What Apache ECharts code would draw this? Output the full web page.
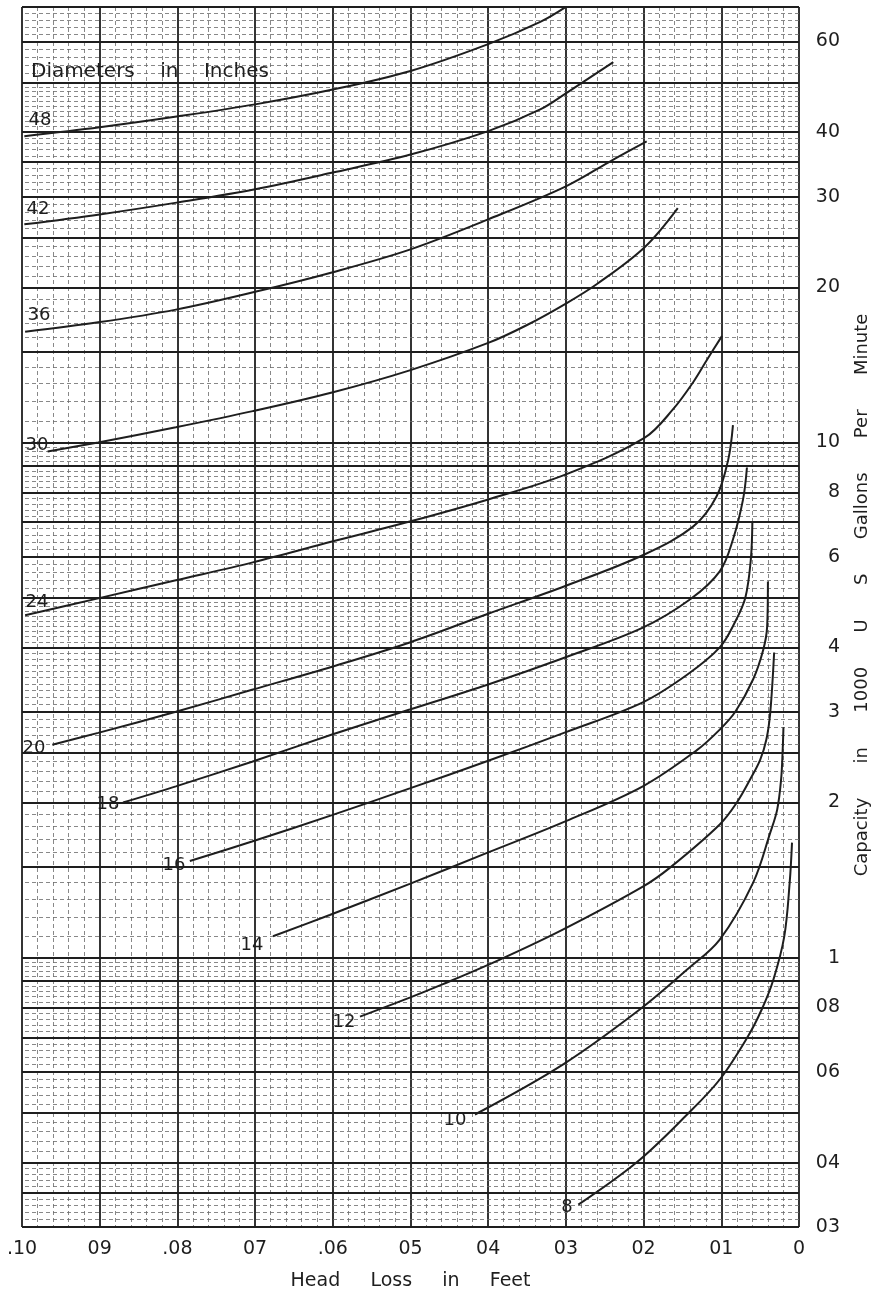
<!DOCTYPE html>
<html>
<head>
<meta charset="utf-8">
<script src="https://cdn.jsdelivr.net/npm/echarts@6/dist/echarts.min.js"></script>
<style>html,body{margin:0;padding:0;background:#ffffff}#c{width:881px;height:1298px}</style>
</head>
<body>
<div id="c"></div>
<script>
// ---- data (x = head loss in feet, y = capacity in 1000 US gpm) ----
const diameters = ['48', '42', '36', '30', '24', '20', '18', '16', '14', '12', '10', '8'];

const loss48 = [0.0997, 0.0900, 0.0801, 0.0700, 0.0600, 0.0500, 0.0400, 0.0333, 0.0301];
const cap48  = [39.3, 40.9, 42.9, 45.3, 48.4, 52.6, 59.3, 65.5, 69.9];

const loss42 = [0.0997, 0.0900, 0.0801, 0.0700, 0.0600, 0.0500, 0.0400, 0.0333, 0.0300, 0.0239];
const cap42  = [26.5, 27.7, 29.2, 31.0, 33.4, 36.2, 40.2, 44.3, 47.6, 54.7];

const loss36 = [0.0996, 0.0902, 0.0802, 0.0700, 0.0600, 0.0500, 0.0400, 0.0300, 0.0239, 0.0196];
const cap36  = [16.4, 17.1, 18.1, 19.6, 21.4, 23.7, 27.1, 31.4, 35.4, 38.4];

const loss30 = [0.0967, 0.0902, 0.0802, 0.0703, 0.0601, 0.0501, 0.0400, 0.0350, 0.0300, 0.0260, 0.0199, 0.0156];
const cap30  = [9.60, 10.0, 10.7, 11.5, 12.5, 13.8, 15.6, 16.9, 18.6, 20.3, 23.9, 28.5];

const loss24 = [0.0996, 0.0902, 0.0802, 0.0703, 0.0601, 0.0501, 0.0400, 0.0300, 0.0199, 0.0162, 0.0136, 0.0118, 0.0099];
const cap24  = [4.62, 4.98, 5.40, 5.85, 6.42, 7.02, 7.75, 8.67, 10.2, 11.6, 13.1, 14.5, 16.1];

const loss20 = [0.0961, 0.0902, 0.0802, 0.0704, 0.0601, 0.0501, 0.0400, 0.0300, 0.0199, 0.0136, 0.0106, 0.0091, 0.0085];
const cap20  = [2.59, 2.73, 3.00, 3.31, 3.67, 4.09, 4.65, 5.27, 6.06, 6.87, 7.86, 9.27, 10.8];

const loss18 = [0.0870, 0.0802, 0.0704, 0.0601, 0.0501, 0.0400, 0.0302, 0.0201, 0.0140, 0.0102, 0.0085, 0.0072, 0.0067];
const cap18  = [2.00, 2.15, 2.40, 2.71, 3.03, 3.39, 3.82, 4.37, 4.96, 5.62, 6.48, 7.75, 8.94];

const loss16 = [0.0784, 0.0704, 0.0601, 0.0501, 0.0400, 0.0300, 0.0201, 0.0144, 0.0102, 0.0082, 0.0069, 0.0062, 0.0060];
const cap16  = [1.54, 1.68, 1.89, 2.13, 2.41, 2.74, 3.13, 3.54, 4.00, 4.49, 5.00, 5.93, 7.02];

const loss14 = [0.0677, 0.0604, 0.0501, 0.0400, 0.0300, 0.0201, 0.0131, 0.0102, 0.0082, 0.0059, 0.0046, 0.0041, 0.0040];
const cap14  = [1.10, 1.21, 1.39, 1.60, 1.84, 2.15, 2.53, 2.77, 3.00, 3.47, 3.96, 4.39, 5.37];

const loss12 = [0.0565, 0.0501, 0.0459, 0.0385, 0.0304, 0.0201, 0.0166, 0.0102, 0.0080, 0.0063, 0.0050, 0.0042, 0.0037, 0.0032];
const cap12  = [0.768, 0.836, 0.887, 0.991, 1.133, 1.373, 1.495, 1.813, 2.00, 2.216, 2.42, 2.65, 2.99, 3.91];

const loss10 = [0.0417, 0.0304, 0.0205, 0.0144, 0.0102, 0.0059, 0.0037, 0.0028, 0.0023, 0.0021, 0.0020];
const cap10  = [0.496, 0.620, 0.793, 0.948, 1.084, 1.398, 1.748, 1.94, 2.22, 2.53, 2.80];

const loss8 = [0.0284, 0.0208, 0.0144, 0.0102, 0.0066, 0.0048, 0.0033, 0.0019, 0.0012, 0.0009];
const cap8  = [0.3315, 0.4016, 0.496, 0.580, 0.702, 0.793, 0.906, 1.098, 1.398, 1.672];

// tick labels as printed on the chart
const lossTickLabels = ['0', '01', '02', '03', '04', '05', '.06', '07', '.08', '09', '.10'];
const capTickValues = [0.3, 0.4, 0.6, 0.8, 1, 2, 3, 4, 6, 8, 10, 20, 30, 40, 60];
const capTickLabels = ['03', '04', '06', '08', '1', '2', '3', '4', '6', '8', '10', '20', '30', '40', '60'];

// ruled graph-paper lines (capacity values)
const majorCapLines = [0.3, 0.35, 0.4, 0.5, 0.6, 0.7, 0.8, 0.9, 1, 1.5, 2, 2.5, 3, 4, 5, 6, 7, 8, 9, 10, 15, 20, 25, 30, 35, 40, 50, 60, 70];
const minorCapSteps = [[0.3, 0.4, 0.01], [0.4, 1, 0.02], [1, 5, 0.1], [5, 10, 0.2], [10, 50, 1], [50, 70, 2]];

// ---- build ----
const curveData = {
  '48': [loss48, cap48], '42': [loss42, cap42], '36': [loss36, cap36], '30': [loss30, cap30],
  '24': [loss24, cap24], '20': [loss20, cap20], '18': [loss18, cap18], '16': [loss16, cap16],
  '14': [loss14, cap14], '12': [loss12, cap12], '10': [loss10, cap10], '8': [loss8, cap8]
};

const minorCapLines = [];
minorCapSteps.forEach(function (r) {
  const n = Math.round((r[1] - r[0]) / r[2]);
  for (let i = 1; i < n; i++) {
    const v = +(r[0] + i * r[2]).toFixed(4);
    if (!majorCapLines.some(function (m) { return Math.abs(m - v) < 1e-9; })) minorCapLines.push(v);
  }
});

const ink = '#1e1e1e';
const font = 'DejaVu Sans';

const gridSeries = [
  {
    type: 'line', name: 'paper-minor', data: [], silent: true, z: 1, animation: false,
    markLine: {
      silent: true, animation: false, symbol: ['none', 'none'], label: { show: false },
      lineStyle: { color: '#6a6a6a', width: 0.8, type: [4, 3] },
      emphasis: { disabled: true },
      data: minorCapLines.map(function (v) { return { yAxis: v }; })
    }
  },
  {
    type: 'line', name: 'paper-major', data: [], silent: true, z: 2, animation: false,
    markLine: {
      silent: true, animation: false, symbol: ['none', 'none'], label: { show: false },
      lineStyle: { color: ink, width: 1.8, type: 'solid' },
      emphasis: { disabled: true },
      data: majorCapLines.map(function (v) { return { yAxis: v }; })
    }
  }
];

const curveSeries = diameters.map(function (d) {
  const xs = curveData[d][0], ys = curveData[d][1];
  return {
    type: 'line', name: d + ' in', z: 5, animation: false,
    data: xs.map(function (x, i) { return [x, ys[i]]; }),
    smooth: 0.35, showSymbol: false, symbol: 'none', clip: true,
    lineStyle: { color: ink, width: 2 },
    emphasis: { disabled: true }
  };
});

const labelPos = {
  '48': [40, 120], '42': [38, 209], '36': [39, 315], '30': [37, 445], '24': [37, 602], '20': [34, 748],
  '18': [108, 804], '16': [174, 865], '14': [252, 945], '12': [344, 1022], '10': [455, 1120], '8': [567, 1207]
};

const graphics = diameters.map(function (d) {
  return {
    type: 'text', x: labelPos[d][0], y: labelPos[d][1], z: 10, silent: true,
    style: { text: d, fontSize: 18, fontFamily: font, fill: ink, align: 'center', verticalAlign: 'middle' }
  };
});
graphics.push({
  type: 'text', x: 31, y: 72, z: 10, silent: true,
  style: { text: 'Diameters    in    Inches', fontSize: 20, fontFamily: font, fill: ink, align: 'left', verticalAlign: 'middle' }
});
graphics.push({
  type: 'text', x: 862, y: 595, rotation: Math.PI / 2, z: 10, silent: true,
  style: { text: 'Capacity      in      1000      U      S      Gallons      Per      Minute', fontSize: 18, fontFamily: font, fill: ink, align: 'center', verticalAlign: 'middle' }
});

const chart = echarts.init(document.getElementById('c'), null, { renderer: 'canvas' });
chart.setOption({
  backgroundColor: '#ffffff',
  animation: false,
  grid: { left: 22, right: 82, top: 7, bottom: 71, containLabel: false },
  xAxis: {
    type: 'value', min: 0, max: 0.1, interval: 0.01, inverse: true,
    axisLine: { show: false }, axisTick: { show: false },
    axisLabel: {
      margin: 13, fontSize: 19, fontFamily: font, color: ink,
      formatter: function (v) { return lossTickLabels[Math.round(v * 100)]; }
    },
    splitLine: { show: true, lineStyle: { color: ink, width: 1.8 } },
    minorTick: { show: false, splitNumber: 5 },
    minorSplitLine: { show: true, lineStyle: { color: '#6a6a6a', width: 0.8, type: [4, 3] } },
    name: 'Head     Loss     in     Feet', nameLocation: 'middle', nameGap: 45,
    nameTextStyle: { fontSize: 19, fontFamily: font, color: ink }
  },
  yAxis: {
    type: 'log', logBase: 10, min: 0.3, max: 70, position: 'right',
    axisLine: { show: false }, axisTick: { show: false },
    splitLine: { show: false }, minorSplitLine: { show: false },
    axisLabel: {
      customValues: capTickValues, align: 'right', margin: 41,
      fontSize: 19, fontFamily: font, color: ink,
      formatter: function (v) {
        for (let i = 0; i < capTickValues.length; i++) {
          if (Math.abs(capTickValues[i] - v) / capTickValues[i] < 1e-6) return capTickLabels[i];
        }
        return '';
      }
    }
  },
  graphic: graphics,
  series: gridSeries.concat(curveSeries)
});
</script>
</body>
</html>
